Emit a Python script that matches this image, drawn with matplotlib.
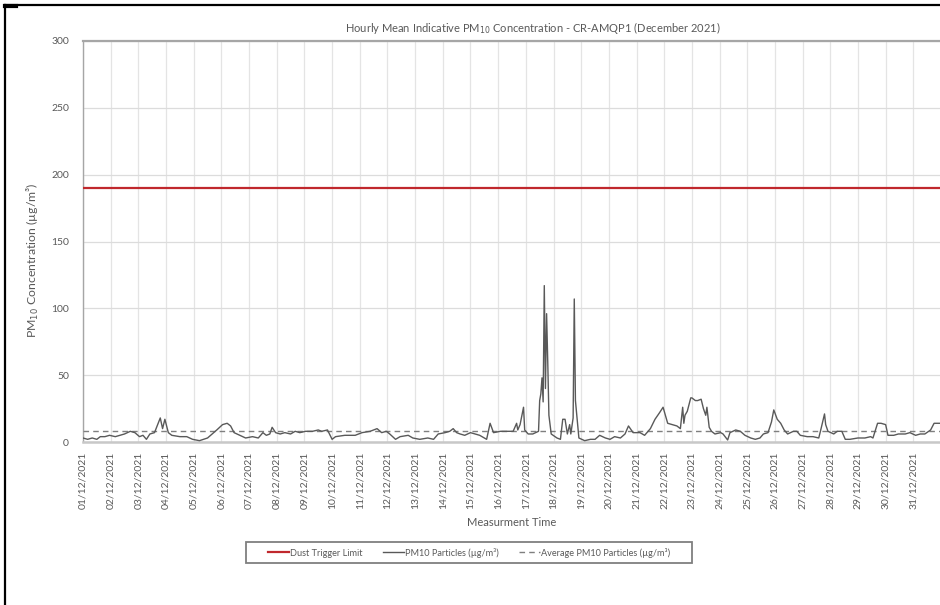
import matplotlib
matplotlib.use("Agg")
import matplotlib.pyplot as plt
from matplotlib.lines import Line2D
from matplotlib.patches import Rectangle

plt.rcParams['font.family'] = ['Lato', 'DejaVu Sans']

# Hours since 01/12/2021 00:00 and hourly mean PM10 (µg/m³)
hours = [0, 4, 8, 12, 15, 19, 23, 28, 32, 36, 41, 45, 49, 52, 55, 58, 62, 67, 69, 71,
         74, 77, 84, 90, 95, 101, 108, 112, 116, 121, 125, 128, 131, 136, 141, 147, 152, 156, 159, 162,
         164, 167, 171, 175, 180, 184, 188, 193, 199, 204, 207, 212, 216, 219, 227, 236, 242, 249, 255, 259,
         263, 266, 271, 275, 282, 286, 292, 299, 304, 308, 314, 318, 321, 324, 327, 331, 336, 340, 344, 350,
         353, 356, 362, 369, 373, 376, 377, 379, 382, 383, 386, 390, 395, 396, 397, 398, 399, 400, 401, 402,
         403, 404, 406, 411, 414, 416, 418, 420, 422, 423, 425, 426, 427, 430, 435, 440, 444, 448, 453, 457,
         461, 466, 470, 473, 477, 483, 487, 492, 496, 500, 503, 507, 511, 515, 518, 520, 521, 522, 524, 527,
         528, 531, 533, 536, 538, 540, 541, 543, 545, 548, 553, 555, 559, 561, 566, 570, 574, 579, 583, 587,
         590, 594, 597, 599, 602, 605, 608, 611, 616, 619, 622, 628, 633, 638, 640, 643, 644, 646, 651, 654,
         658, 661, 665, 672, 678, 683, 685, 689, 692, 696, 698, 703, 707, 713, 717, 722, 726, 730, 735, 738,
         743]
pm10 = [3, 2, 3, 2, 4, 4, 5, 4, 5, 6, 8, 7, 4, 5, 2, 6, 7, 18, 10, 17,
        7, 5, 4, 4, 2, 1, 3, 6, 9, 13, 14, 12, 7, 5, 3, 4, 3, 7, 5, 6,
        11, 7, 6, 7, 6, 8, 7, 8, 8, 9, 8, 9, 2, 4, 5, 5, 7, 8, 10, 7,
        8, 6, 2, 4, 5, 3, 2, 3, 2, 6, 7, 8, 10, 7, 6, 5, 7, 6, 5, 2,
        14, 7, 8, 8, 8, 14, 9, 13, 26, 9, 6, 6, 8, 31, 36, 48, 30, 117, 40, 96,
        60, 20, 6, 3, 2, 17, 17, 6, 13, 6, 18, 107, 31, 3, 1, 2, 2, 5, 3, 2,
        4, 3, 6, 12, 7, 7, 5, 10, 17, 22, 26, 14, 13, 12, 10, 26, 14, 20, 23, 33,
        33, 31, 31, 32, 25, 20, 26, 11, 8, 6, 7, 6, 1.5, 7, 9, 8, 5, 3, 2, 3,
        6, 7, 15, 24, 17, 14, 9, 6, 8, 8, 5, 4, 4, 3, 10, 21, 13, 8, 6, 8,
        8, 2, 2, 3, 3, 4, 3, 14, 14, 13, 5, 5, 6, 6, 7, 5, 6, 6, 9, 14,
        14]
average_pm10 = 8
dust_trigger_limit = 190

day_ticks = list(range(0, 744, 24))
day_labels = [f"{d:02d}/12/2021" for d in range(1, 32)]
y_ticks = [0, 50, 100, 150, 200, 250, 300]

text_grey = '#595959'
W, H = 940, 605

fig = plt.figure(figsize=(9.4, 6.05), dpi=100)
ax = fig.add_axes([83 / W, 163 / H, 858 / W, 401 / H])

ax.axhline(dust_trigger_limit, color='#c0282d', lw=1.6, label='Dust Trigger Limit', zorder=3)
ax.plot(hours, pm10, color='#595959', lw=1.0, label='PM10 Particles (µg/m³)', zorder=4)
ax.axhline(average_pm10, color='#7f7f7f', lw=1.0, ls=(0, (4, 3)),
           label='Average PM10 Particles (µg/m³)', zorder=3)

ax.set_xlim(0, 744)
ax.set_ylim(0, 300)
ax.set_xticks(day_ticks)
ax.set_xticklabels(day_labels, rotation=90, fontsize=7.5, color=text_grey)
ax.set_yticks(y_ticks)
ax.set_yticklabels([str(v) for v in y_ticks], fontsize=7.5, color=text_grey)
ax.tick_params(axis='x', length=0, pad=7)
ax.tick_params(axis='y', length=0, pad=10)

ax.grid(axis='y', color='#dcdcdc', lw=0.9)
ax.grid(axis='x', color='#e4e4e4', lw=0.9)
ax.set_axisbelow(True)

for side, spine in ax.spines.items():
    spine.set_color('#a6a6a6')
ax.spines['top'].set_linewidth(1.6)
ax.spines['bottom'].set_linewidth(1.8)
ax.spines['bottom'].set_color('#c8c8c8')
ax.spines['left'].set_linewidth(1.0)
ax.spines['right'].set_visible(False)

ax.set_xlabel('Measurment Time', fontsize=8, color=text_grey, labelpad=6)
fig.text(33 / W, 1 - 260 / H, 'PM$_{10}$ Concentration (µg/m³)', rotation=90,
         ha='center', va='center', fontsize=8.8, color=text_grey)
fig.text(533 / W, 1 - 28 / H,
         'Hourly Mean Indicative PM$_{10}$ Concentration - CR-AMQP1 (December 2021)',
         ha='center', va='center', fontsize=8, color=text_grey)

# legend box drawn as its own rectangle, entries centred inside it
fig.add_artist(Rectangle((246 / W, 1 - 563 / H), 446 / W, 21 / H, transform=fig.transFigure,
                         facecolor='white', edgecolor='#7f7f7f', lw=1.3, zorder=5))
leg = fig.legend(loc='center', bbox_to_anchor=(469 / W, 1 - 552.5 / H), ncol=3,
                 fontsize=6.6, frameon=False, handlelength=2.3,
                 columnspacing=2.2, handletextpad=0.1, borderpad=0.3)
leg.set_zorder(6)
for t in leg.get_texts():
    t.set_color(text_grey)

# outer frame strokes
fig.add_artist(Line2D([5 / W, 5 / W], [0, 1 - 5 / H], transform=fig.transFigure,
                      color='black', lw=1.6))
fig.add_artist(Line2D([5 / W, 1], [1 - 5 / H, 1 - 5 / H], transform=fig.transFigure,
                      color='black', lw=1.6))
fig.add_artist(Line2D([5 / W, 16 / W], [1 - 6 / H, 1 - 6 / H], transform=fig.transFigure,
                      color='black', lw=3))

fig.savefig('out.png', dpi=100)
